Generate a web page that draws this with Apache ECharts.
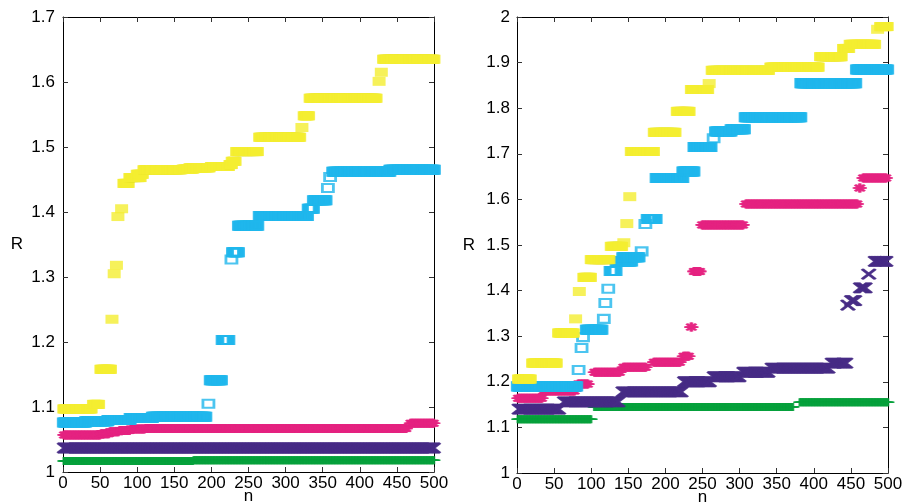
<!DOCTYPE html>
<html><head><meta charset="utf-8">
<script src="https://cdn.jsdelivr.net/npm/echarts@6/dist/echarts.min.js"></script>
<style>html,body{margin:0;padding:0;background:#fff}#c{width:906px;height:502px}</style>
</head><body><div id="c"></div>
<script>
// ---- tick values ----
const xTicks = [0, 50, 100, 150, 200, 250, 300, 350, 400, 450, 500];
const leftYTicks = [1, 1.1, 1.2, 1.3, 1.4, 1.5, 1.6, 1.7];
const rightYTicks = [1, 1.1, 1.2, 1.3, 1.4, 1.5, 1.6, 1.7, 1.8, 1.9, 2];

// ---- series values, read as step runs: [n from, n to, R] ----
// Left panel
const leftYellow = [[1,38,1.097],[41,48,1.104],[51,64,1.158],[66,66,1.235],[69,69,1.305],[72,72,1.318],
  [74,74,1.393],[79,79,1.405],[82,88,1.444],[90,104,1.453],[100,107,1.458],[109,159,1.465],[162,175,1.466],
  [171,197,1.468],[200,223,1.470],[225,227,1.473],[228,232,1.478],[234,262,1.493],[265,319,1.515],
  [322,322,1.530],[325,331,1.548],[333,422,1.575],[426,426,1.601],[429,429,1.615],[432,500,1.635]];
const leftCyan = [[1,30,1.076],[31,60,1.078],[61,90,1.080],[91,120,1.083],[121,192,1.085],[196,196,1.105],
  [199,213,1.141],[215,223,1.203],[227,227,1.327],[229,236,1.338],[237,262,1.379],[265,329,1.394],
  [331,337,1.405],[338,354,1.418],[357,357,1.437],[360,360,1.454],[364,440,1.462],[441,500,1.465]];
const leftMagenta = [[1,50,1.057],[51,62,1.059],[63,75,1.062],[76,90,1.064],[91,110,1.066],[111,463,1.067],[468,500,1.075]];
const leftPurple = [[1,500,1.037]];
const leftGreen = [[1,175,1.017],[176,500,1.018]];

// Right panel
const rightYellow = [[2,18,1.206],[21,53,1.241],[56,76,1.307],[79,79,1.338],[84,84,1.398],[90,99,1.429],
  [100,124,1.468],[127,141,1.497],[144,144,1.505],[148,148,1.547],[152,152,1.606],[154,184,1.705],
  [185,213,1.747],[216,232,1.793],[235,257,1.841],[259,259,1.854],[263,339,1.883],[342,406,1.890],
  [409,437,1.913],[440,447,1.931],[449,482,1.940],[486,486,1.973],[490,499,1.979]];
const rightCyan = [[1,80,1.190],[83,83,1.226],[87,87,1.274],[89,89,1.298],[94,114,1.314],[117,117,1.338],
  [119,119,1.373],[123,123,1.404],[126,133,1.443],[134,154,1.464],[143,164,1.473],[168,168,1.486],
  [173,173,1.546],[176,187,1.557],[188,223,1.647],[224,238,1.661],[239,261,1.715],[265,265,1.734],
  [268,288,1.749],[289,306,1.754],[308,382,1.780],[383,456,1.855],[458,499,1.885]];
const rightMagenta = [[1,34,1.164],[35,78,1.180],[82,96,1.195],[104,139,1.221],[143,174,1.232],
  [184,220,1.243],[224,232,1.256],[234,236,1.320],[238,247,1.442],[249,305,1.544],[308,459,1.590],
  [461,463,1.625],[466,498,1.647]];
const rightPurple = [[2,57,1.140],[63,137,1.156],[142,222,1.178],[225,260,1.200],[265,300,1.211],
  [305,339,1.221],[343,420,1.230],[424,444,1.241],[445,447,1.368],[450,456,1.378],[462,470,1.406],
  [473,475,1.436],[482,498,1.464]];
const rightGreen = [[1,100,1.118],[104,372,1.145],[381,500,1.155]];

// ---- build points: one point per n inside each run ----
function runsToPoints(runs) {
  const out = [];
  runs.forEach(([a, b, v]) => { for (let n = a; n <= b; n++) out.push([n, v]); });
  return out;
}

const STAR = 'path://M0,5L10,5M5,0L5,10M1.5,1.5L8.5,8.5M8.5,1.5L1.5,8.5';
const XMARK = 'path://M0,0L10,10M10,0L0,10';
const PLUS = 'path://M0,5L10,5M5,0L5,10';

const styles = {
  green:   { symbol: PLUS,  symbolSize: [13, 8],  itemStyle: { color: 'rgba(0,0,0,0)', borderColor: '#05a03b', borderWidth: 2 } },
  purple:  { symbol: XMARK, symbolSize: [13, 10], itemStyle: { color: 'rgba(0,0,0,0)', borderColor: '#472c86', borderWidth: 2.2 } },
  magenta: { symbol: STAR,  symbolSize: [13, 9],  itemStyle: { color: 'rgba(0,0,0,0)', borderColor: '#e52381', borderWidth: 2 } },
  cyan:    { symbol: 'rect', symbolSize: [11, 8], itemStyle: { color: 'rgba(0,0,0,0)', borderColor: '#1fb6ec', borderWidth: 2.4 } },
  yellow:  { symbol: 'rect', symbolSize: [13, 9], itemStyle: { color: '#f4ed31' } }
};

function mk(name, runs, style, idx) {
  return Object.assign({
    type: 'scatter', name: name, xAxisIndex: idx, yAxisIndex: idx,
    data: runsToPoints(runs), silent: true, progressive: 0, animation: false
  }, style);
}

const labelFont = { fontFamily: 'Liberation Sans', fontSize: 17, color: '#000' };
const tickStyle = { show: true, inside: true, length: 5, lineStyle: { color: '#333', width: 1 } };
const lineStyle = { show: true, onZero: false, lineStyle: { color: '#000', width: 1 } };

function xAx(grid, pos, showLabel) {
  return {
    type: 'value', gridIndex: grid, position: pos,
    min: xTicks[0], max: xTicks[xTicks.length - 1], interval: xTicks[1] - xTicks[0],
    axisLine: lineStyle, axisTick: tickStyle, splitLine: { show: false },
    axisLabel: Object.assign({ show: showLabel, margin: 3, interval: 0, hideOverlap: false }, labelFont),
    name: showLabel ? 'n' : '', nameLocation: 'middle', nameGap: 16, nameMoveOverlap: false,
    nameTextStyle: labelFont
  };
}
function yAx(grid, pos, ticks, showLabel, margin, gap) {
  return {
    type: 'value', gridIndex: grid, position: pos,
    min: ticks[0], max: ticks[ticks.length - 1], interval: 0.1,
    axisLine: lineStyle, axisTick: tickStyle, splitLine: { show: false },
    axisLabel: Object.assign({ show: showLabel, margin: margin,
      formatter: v => String(Math.round(v * 10) / 10) }, labelFont),
    name: showLabel ? 'R' : '', nameLocation: 'middle', nameRotate: 0, nameGap: gap, nameMoveOverlap: false,
    nameTextStyle: labelFont
  };
}

const chart = echarts.init(document.getElementById('c'), null, { renderer: 'canvas' });
chart.setOption({
  animation: false,
  backgroundColor: '#fff',
  grid: [
    { left: 63, right: 472, top: 17, bottom: 30, outerBoundsMode: 'none', containLabel: false },
    { left: 517, right: 18, top: 17, bottom: 29, outerBoundsMode: 'none', containLabel: false }
  ],
  xAxis: [xAx(0, 'bottom', true), xAx(0, 'top', false), xAx(1, 'bottom', true), xAx(1, 'top', false)],
  yAxis: [yAx(0, 'left', leftYTicks, true, 8, 40), yAx(0, 'right', leftYTicks, false, 8, 0),
          yAx(1, 'left', rightYTicks, true, 7, 42), yAx(1, 'right', rightYTicks, false, 8, 0)],
  series: [
    mk('green', leftGreen, styles.green, 0),
    mk('purple', leftPurple, styles.purple, 0),
    mk('magenta', leftMagenta, styles.magenta, 0),
    mk('cyan', leftCyan, styles.cyan, 0),
    mk('yellow', leftYellow, styles.yellow, 0),
    mk('green', rightGreen, styles.green, 2),
    mk('purple', rightPurple, styles.purple, 2),
    mk('magenta', rightMagenta, styles.magenta, 2),
    mk('cyan', rightCyan, styles.cyan, 2),
    mk('yellow', rightYellow, styles.yellow, 2)
  ]
});
</script></body></html>
